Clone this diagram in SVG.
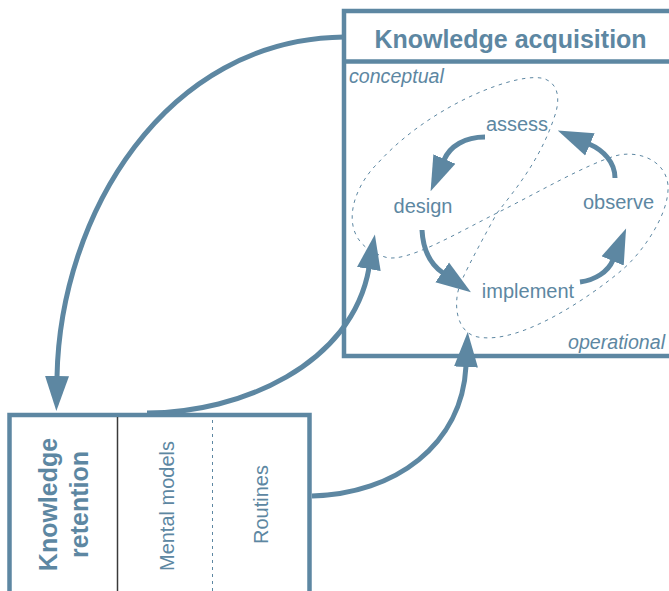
<svg xmlns="http://www.w3.org/2000/svg" width="669" height="591" viewBox="0 0 669 591">
<defs>
<style>
.box{fill:#ffffff;stroke:#5d87a2;stroke-width:4.5}
.ell{fill:none;stroke:#5d87a2;stroke-width:1;stroke-dasharray:3.5 4.5}
.con{fill:none;stroke:#5d87a2;stroke-width:5}
.t{font-family:"Liberation Sans",Arial,sans-serif;fill:#5d87a2}
.b{font-weight:bold;font-size:25px}
.r{font-size:20px}
.i{font-size:19.6px;font-style:italic}
</style>
<marker id="ah" markerUnits="userSpaceOnUse" markerWidth="37" markerHeight="26" refX="1" refY="12.5" orient="auto">
<polygon points="0,0.5 35,12.5 0,24.5" fill="#5d87a2"/>
</marker>
</defs>
<g id="knowledge-acquisition">
<rect class="box" x="344" y="11" width="345" height="345"/>
<line x1="344" y1="61.5" x2="669" y2="61.5" stroke="#5d87a2" stroke-width="4.5"/>
<text class="t b" x="510.5" y="48" text-anchor="middle">Knowledge acquisition</text>
<text class="t i" x="349" y="83">conceptual</text>
<text class="t i" x="665" y="349" text-anchor="end">operational</text>
<path class="ell" d="M497,213 C515,190 540,160 554,118 C560,102 560,85 545,79 C520,70 430,105 378,163 C350,190 335,242 385,257 C405,264 457,233 497,213 C537,193 585,165 615,156 C635,150 665,158 668,185 C670,215 640,255 622,270 C590,297 520,345 478,337 C455,333 452,300 462,280 C470,262 485,235 497,213 Z"/>
</g>
<g id="assess"><text class="t r" x="517" y="131" text-anchor="middle">assess</text></g>
<g id="design"><text class="t r" x="423" y="213" text-anchor="middle">design</text></g>
<g id="observe"><text class="t r" x="618.5" y="209" text-anchor="middle">observe</text></g>
<g id="implement"><text class="t r" x="528" y="298" text-anchor="middle">implement</text></g>
<g id="knowledge-retention">
<rect class="box" x="9.5" y="415" width="300" height="200"/>
<line x1="117.5" y1="417" x2="117.5" y2="591" stroke="#3a3a3a" stroke-width="1.5"/>
<line x1="212.5" y1="420" x2="212.5" y2="591" stroke="#5d87a2" stroke-width="1" stroke-dasharray="3 4"/>
<text class="t b" transform="translate(57 504.5) rotate(-90)" text-anchor="middle">Knowledge</text>
<text class="t b" transform="translate(88 504.5) rotate(-90)" text-anchor="middle">retention</text>
<text class="t r" transform="translate(174 506) rotate(-90)" text-anchor="middle">Mental models</text>
<text class="t r" transform="translate(268 504.5) rotate(-90)" text-anchor="middle">Routines</text>
</g>
<g id="connectors">
<path class="con" d="M344,37 C165,39 60,215 57,377" marker-end="url(#ah)"/>
<path class="con" d="M147,413 C240,413 352,365 369,268" marker-end="url(#ah)"/>
<path class="con" d="M312,496 C395,494 462,445 466,366" marker-end="url(#ah)"/>
<path class="con" d="M485,137 C465,137 450,146 444,160" marker-end="url(#ah)"/>
<path class="con" d="M422,230 C423,250 430,264 443,273" marker-end="url(#ah)"/>
<path class="con" d="M580,282 C595,280 608,272 613,260" marker-end="url(#ah)"/>
<path class="con" d="M615,178 C615,162 603,150 589,144" marker-end="url(#ah)"/>
</g>
</svg>
